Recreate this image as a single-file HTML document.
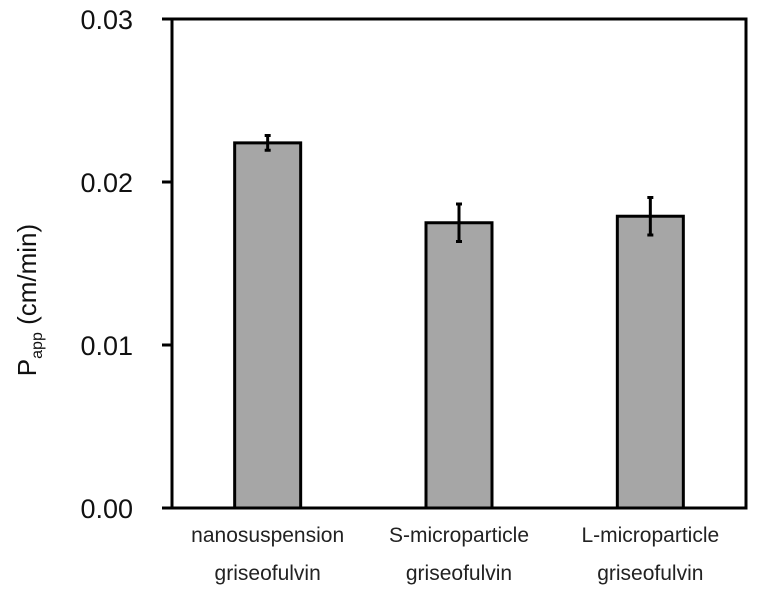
<!DOCTYPE html>
<html><head><meta charset="utf-8"><style>
body{margin:0;background:#fff;}
svg{display:block;font-family:"Liberation Sans",Arial,sans-serif;}
</style></head><body>
<svg id="chart" width="760" height="595">
<g id="marks"></g>
<text transform="translate(36,300) rotate(-90)" text-anchor="middle" font-size="26" fill="#111">P<tspan font-size="16" dy="6">app</tspan><tspan dy="-6"> (cm/min)</tspan></text>
</svg>
<script>
const categories1=["nanosuspension","S-microparticle","L-microparticle"];
const categories2=["griseofulvin","griseofulvin","griseofulvin"];
const values=[0.0224,0.0175,0.0179];
const errors=[0.00045,0.00115,0.00115];
const yTicks=[0,0.01,0.02,0.03];
const yTickLabels=["0.00","0.01","0.02","0.03"];
const NS="http://www.w3.org/2000/svg";
const L=172,R=746,T=19,B=508,yMax=0.03;
const y=v=>B-(v/yMax)*(B-T);
const band=(R-L)/categories1.length;
const xc=i=>L+band*(i+0.5);
const bw=66;
const g=document.getElementById('marks');
function mk(t,a){const e=document.createElementNS(NS,t);for(const k in a)e.setAttribute(k,a[k]);g.appendChild(e);return e;}
values.forEach((v,i)=>{
  const r=mk('rect',{x:xc(i)-bw/2,y:y(v),width:bw,height:B-y(v),fill:'#a6a6a6',stroke:'#000','stroke-width':3});
  
  
  const e=mk('path',{d:`M${xc(i)},${y(v+errors[i])}V${y(v-errors[i])}M${xc(i)-3},${y(v+errors[i])}h6M${xc(i)-3},${y(v-errors[i])}h6`,stroke:'#000','stroke-width':3,fill:'none'});
  
  
  const t1=mk('text',{x:xc(i),y:542,'text-anchor':'middle','font-size':21,fill:'#222'});t1.textContent=categories1[i];
  
  
  const t2=mk('text',{x:xc(i),y:580,'text-anchor':'middle','font-size':21,fill:'#222'});t2.textContent=categories2[i];
  
  
});
const frame=mk('rect',{x:L,y:T,width:R-L,height:B-T,fill:'none',stroke:'#000','stroke-width':3});


yTicks.forEach((v,i)=>{
  const tk=mk('line',{x1:L-10,x2:L,y1:y(v),y2:y(v),stroke:'#000','stroke-width':3});
  
  
  const t=mk('text',{x:133,y:y(v)+10,'text-anchor':'end','font-size':27,fill:'#111'});t.textContent=yTickLabels[i];
  
  
});
</script>
</body></html>
